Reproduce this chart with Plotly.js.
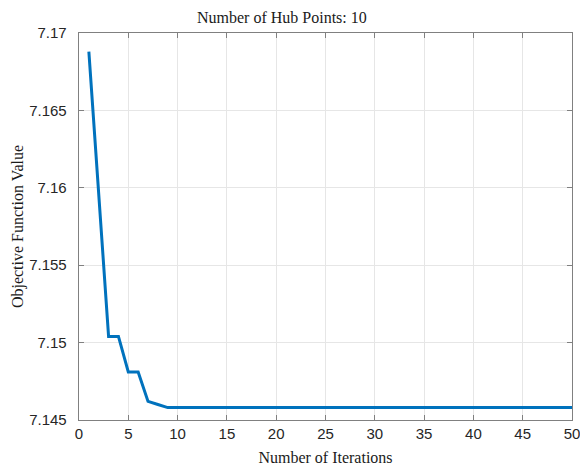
<!DOCTYPE html>
<html>
<head>
<meta charset="utf-8">
<script src="https://cdn.plot.ly/plotly-3.0.1.min.js"></script>
<style>html,body{margin:0;padding:0;background:#fff;}#chart{width:580px;height:470px;}</style>
</head>
<body>
<div id="chart"></div>
<script>
const iterations = [1,2,3,4,5,6,7,8,9,10,11,12,13,14,15,16,17,18,19,20,21,22,23,24,25,26,27,28,29,30,31,32,33,34,35,36,37,38,39,40,41,42,43,44,45,46,47,48,49,50];
const objectiveValues = [7.1688,7.1597,7.1504,7.1504,7.1481,7.1481,7.1462,7.1460,7.1458,
  7.1458,7.1458,7.1458,7.1458,7.1458,7.1458,7.1458,7.1458,7.1458,7.1458,7.1458,
  7.1458,7.1458,7.1458,7.1458,7.1458,7.1458,7.1458,7.1458,7.1458,7.1458,
  7.1458,7.1458,7.1458,7.1458,7.1458,7.1458,7.1458,7.1458,7.1458,7.1458,
  7.1458,7.1458,7.1458,7.1458,7.1458,7.1458,7.1458,7.1458,7.1458,7.1458];
const xTickVals = [0,5,10,15,20,25,30,35,40,45,50];
const yTickVals = [7.145,7.15,7.155,7.16,7.165,7.17];
const yTickText = ['7.145','7.15','7.155','7.16','7.165','7.17'];

const serif = 'Liberation Serif, Times New Roman, serif';
const trace = {
  x: iterations, y: objectiveValues, type: 'scatter', mode: 'lines',
  line: {color: '#0072BD', width: 3}, hoverinfo: 'skip'
};
const axisCommon = {
  showline: true, linecolor: '#808080', linewidth: 1, mirror: 'ticks',
  ticks: 'inside', ticklen: 5, tickcolor: '#808080',
  showgrid: true, gridcolor: '#e6e6e6', gridwidth: 1, zeroline: false,
  ticklabeloverflow: 'allow',
  tickfont: {family: 'Liberation Sans, Arial, sans-serif', size: 15, color: '#262626'}
};
const layout = {
  width: 580, height: 470,
  margin: {l: 79, r: 8, t: 33, b: 50},
  paper_bgcolor: '#fff', plot_bgcolor: '#fff',
  showlegend: false,
  title: {text: 'Number of Hub Points: 10', x: 0.486, xanchor: 'center', y: 0.962, yanchor: 'middle',
    font: {family: serif, size: 16, color: '#1a1a1a'}},
  xaxis: Object.assign({}, axisCommon, {
    range: [0, 50], tickvals: xTickVals, ticktext: xTickVals.map(String),
    title: {text: 'Number of Iterations', standoff: 10,
      font: {family: serif, size: 16, color: '#1a1a1a'}}
  }),
  yaxis: Object.assign({}, axisCommon, {
    range: [7.145, 7.17], tickvals: yTickVals, ticktext: yTickText.map(t => t + '\u00A0\u00A0'),
    title: {text: 'Objective Function Value', standoff: 1,
      font: {family: serif, size: 16, color: '#1a1a1a'}}
  })
};
Plotly.newPlot('chart', [trace], layout, {displayModeBar: false, staticPlot: true});
</script>
</body>
</html>
